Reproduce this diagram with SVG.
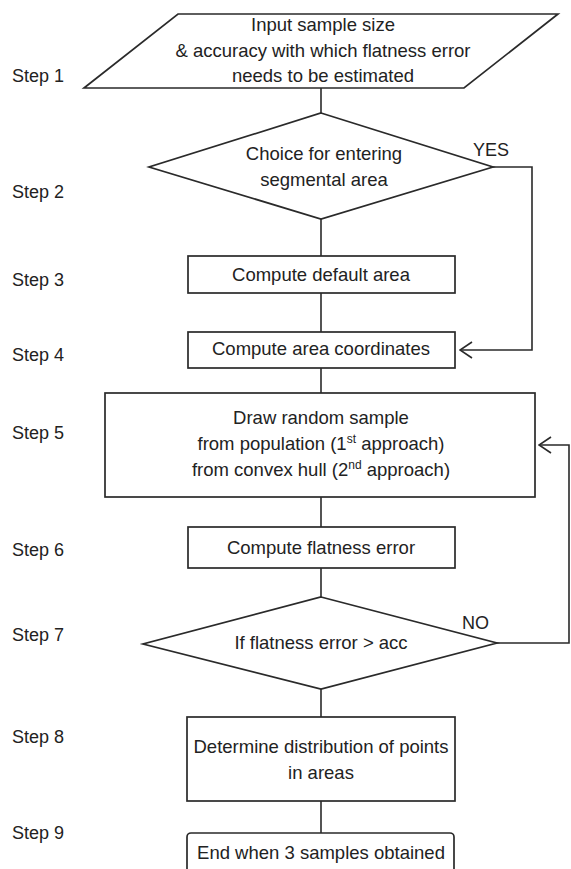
<svg xmlns="http://www.w3.org/2000/svg" width="571" height="869" viewBox="0 0 571 869">
<defs>
<style>
.shape{fill:#fff;stroke:#2a2a2a;stroke-width:1.7}
.conn{fill:none;stroke:#2a2a2a;stroke-width:1.6}
.t{font-family:"Liberation Sans",Arial,sans-serif;font-size:18.5px;fill:#222;text-anchor:middle}
.step{font-family:"Liberation Sans",Arial,sans-serif;font-size:18px;fill:#222}
.lbl{font-family:"Liberation Sans",Arial,sans-serif;font-size:18px;fill:#222}
.sup{font-size:12px}
</style>
<marker id="arr" viewBox="0 0 14 18" refX="13" refY="9" markerWidth="14" markerHeight="18" markerUnits="userSpaceOnUse" orient="auto">
<path d="M1,1 L13,9 L1,17" fill="none" stroke="#2a2a2a" stroke-width="1.6"/>
</marker>
</defs>
<rect width="571" height="869" fill="#fff"/>

<g id="step-labels">
<text class="step" x="12" y="82">Step 1</text>
<text class="step" x="12" y="198">Step 2</text>
<text class="step" x="12" y="286">Step 3</text>
<text class="step" x="12" y="361">Step 4</text>
<text class="step" x="12" y="439">Step 5</text>
<text class="step" x="12" y="556">Step 6</text>
<text class="step" x="12" y="641">Step 7</text>
<text class="step" x="12" y="743">Step 8</text>
<text class="step" x="12" y="839">Step 9</text>
</g>

<g id="connectors">
<line class="conn" x1="321" y1="88" x2="321" y2="113"/>
<line class="conn" x1="321" y1="219" x2="321" y2="256"/>
<line class="conn" x1="321" y1="293" x2="321" y2="332"/>
<line class="conn" x1="321" y1="368" x2="321" y2="393"/>
<line class="conn" x1="321" y1="497" x2="321" y2="527"/>
<line class="conn" x1="321" y1="568" x2="321" y2="597"/>
<line class="conn" x1="321" y1="689" x2="321" y2="717"/>
<line class="conn" x1="321" y1="801" x2="321" y2="833"/>
<polyline class="conn" points="493,167 532,167 532,350 460,350" marker-end="url(#arr)"/>
<polyline class="conn" points="497,643 569,643 569,445 539,445" marker-end="url(#arr)"/>
<text class="lbl" x="473" y="156">YES</text>
<text class="lbl" x="462" y="629">NO</text>
</g>

<g id="step1">
<polygon class="shape" points="178,14 558,14 464,88 84,88"/>
<text class="t" x="323" y="31">Input sample size</text>
<text class="t" x="323" y="57">&amp; accuracy with which flatness error</text>
<text class="t" x="323" y="82">needs to be estimated</text>
</g>

<g id="step2">
<polygon class="shape" points="321,113 493,167 321,219 149,167"/>
<text class="t" x="324" y="160">Choice for entering</text>
<text class="t" x="324" y="186">segmental area</text>
</g>

<g id="step3">
<rect class="shape" x="188" y="256" width="267" height="37"/>
<text class="t" x="321" y="281">Compute default area</text>
</g>

<g id="step4">
<rect class="shape" x="188" y="332" width="267" height="36"/>
<text class="t" x="321" y="355">Compute area coordinates</text>
</g>

<g id="step5">
<rect class="shape" x="105" y="393" width="430" height="104"/>
<text class="t" x="321" y="424">Draw random sample</text>
<text class="t" x="321" y="450">from population (1<tspan class="sup" dy="-7">st</tspan><tspan dy="7"> approach)</tspan></text>
<text class="t" x="321" y="476">from convex hull (2<tspan class="sup" dy="-7">nd</tspan><tspan dy="7"> approach)</tspan></text>
</g>

<g id="step6">
<rect class="shape" x="188" y="527" width="267" height="41"/>
<text class="t" x="321" y="554">Compute flatness error</text>
</g>

<g id="step7">
<polygon class="shape" points="321,597 497,643 321,689 143,644"/>
<text class="t" x="321" y="649">If flatness error &gt; acc</text>
</g>

<g id="step8">
<rect class="shape" x="187" y="717" width="268" height="84"/>
<text class="t" x="321" y="753">Determine distribution of points</text>
<text class="t" x="321" y="779">in areas</text>
</g>

<g id="step9">
<rect class="shape" x="187" y="833" width="267" height="50" rx="4"/>
<text class="t" x="321" y="859">End when 3 samples obtained</text>
</g>
</svg>
